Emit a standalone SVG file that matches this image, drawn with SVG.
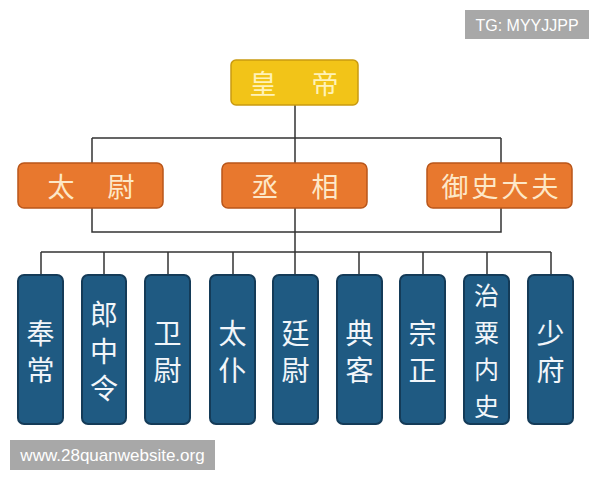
<svg xmlns="http://www.w3.org/2000/svg" width="600" height="480" viewBox="0 0 600 480">
<defs>
<style>
.t{font-family:"Noto Sans CJK SC","Noto Sans",sans-serif;text-anchor:middle;dominant-baseline:central}
.emp rect{fill:#f2c418;stroke:#c99a10;stroke-width:1.5}
.emp text{fill:#fff2b8;font-size:27px}
.min rect{fill:#e8782e;stroke:#b9561a;stroke-width:1.5}
.min text{fill:#fde8c8;font-size:27px}
.off rect{fill:#1f5a82;stroke:#143b58;stroke-width:2}
.off text{fill:#f2f6fa;font-size:28px}
.off text.s{font-size:25px}
.wm rect{fill:#a8a8a8}
.wm text{fill:#ffffff;font-family:"Liberation Sans",Arial,sans-serif}
#connectors path{fill:none;stroke:#333;stroke-width:1.5}
</style>
</defs>
<rect width="600" height="480" fill="#ffffff"/>
<g id="connectors">
<path d="M295 105V163M92 138H501M92 138V163M501 138V163"/>
<path d="M92 208V232H501V208M295 208V252"/>
<path d="M41 252H551M41 252V275M104 252V275M168 252V275M233 252V275M295 252V275M359 252V275M423 252V275M487 252V275M551 252V275"/>
</g>
<g id="huangdi" class="emp"><rect x="231" y="60" width="127" height="45" rx="5"/><text class="t" x="263 325" y="82">皇帝</text></g>
<g id="taiwei" class="min"><rect x="18" y="163" width="145" height="45" rx="6"/><text class="t" x="61 121" y="185">太尉</text></g>
<g id="chengxiang" class="min"><rect x="222" y="163" width="145" height="45" rx="6"/><text class="t" x="265 325" y="185">丞相</text></g>
<g id="yushidafu" class="min"><rect x="427" y="163" width="145" height="45" rx="6"/><text class="t" x="455 485 515 545" y="185">御史大夫</text></g>
<g id="fengchang" class="off"><rect x="18" y="275" width="45" height="149" rx="6"/><text class="t" x="40.5" y="332">奉</text><text class="t" x="40.5" y="369">常</text></g>
<g id="langzhongling" class="off"><rect x="82" y="275" width="44" height="149" rx="6"/><text class="t" x="104" y="313">郎</text><text class="t" x="104" y="350">中</text><text class="t" x="104" y="387">令</text></g>
<g id="weiwei" class="off"><rect x="145" y="275" width="45" height="149" rx="6"/><text class="t" x="167.5" y="332">卫</text><text class="t" x="167.5" y="369">尉</text></g>
<g id="taipu" class="off"><rect x="210" y="275" width="45" height="149" rx="6"/><text class="t" x="232.5" y="332">太</text><text class="t" x="232.5" y="369">仆</text></g>
<g id="tingwei" class="off"><rect x="273" y="275" width="45" height="149" rx="6"/><text class="t" x="295.5" y="332">廷</text><text class="t" x="295.5" y="369">尉</text></g>
<g id="dianke" class="off"><rect x="337" y="275" width="45" height="149" rx="6"/><text class="t" x="359.5" y="332">典</text><text class="t" x="359.5" y="369">客</text></g>
<g id="zongzheng" class="off"><rect x="400" y="275" width="45" height="149" rx="6"/><text class="t" x="422.5" y="332">宗</text><text class="t" x="422.5" y="369">正</text></g>
<g id="zhisuneishi" class="off"><rect x="464" y="275" width="45" height="149" rx="6"/><text class="t s" x="486.5" y="294">治</text><text class="t s" x="486.5" y="331">粟</text><text class="t s" x="486.5" y="368">内</text><text class="t s" x="486.5" y="405">史</text></g>
<g id="shaofu" class="off"><rect x="528" y="275" width="45" height="149" rx="6"/><text class="t" x="550.5" y="332">少</text><text class="t" x="550.5" y="369">府</text></g>
<g id="wm1" class="wm"><rect x="465" y="10" width="124" height="29"/><text x="527" y="30.5" text-anchor="middle" font-size="16">TG: MYYJJPP</text></g>
<g id="wm2" class="wm"><rect x="10" y="440" width="205" height="30"/><text x="112.5" y="461" text-anchor="middle" font-size="17">www.28quanwebsite.org</text></g>
</svg>
